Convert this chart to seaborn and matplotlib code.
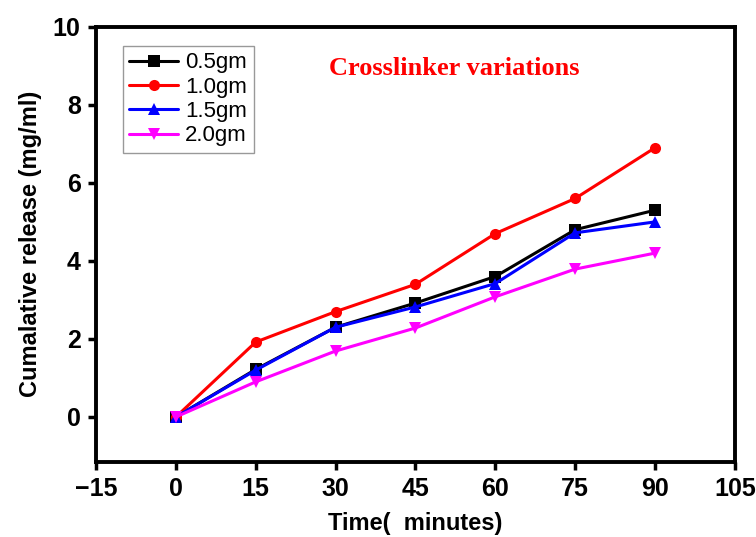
import pandas as pd
import numpy as np
import matplotlib
matplotlib.use("Agg")
import matplotlib.pyplot as plt
import seaborn as sns

# data
time_min = [0, 15, 30, 45, 60, 75, 90]
rel_05 = [0.0, 1.22, 2.3, 2.92, 3.6, 4.8, 5.3]
rel_10 = [0.0, 1.92, 2.7, 3.4, 4.7, 5.6, 6.9]
rel_15 = [0.0, 1.2, 2.3, 2.82, 3.42, 4.72, 5.0]
rel_20 = [0.0, 0.9, 1.69, 2.28, 3.08, 3.79, 4.2]
labels = ["0.5gm", "1.0gm", "1.5gm", "2.0gm"]
x_ticks = [-15, 0, 15, 30, 45, 60, 75, 90, 105]
y_ticks = [0, 2, 4, 6, 8, 10]

colors = {"0.5gm": "black", "1.0gm": "red", "1.5gm": "blue", "2.0gm": "magenta"}
markers = {"0.5gm": "s", "1.0gm": "o", "1.5gm": "^", "2.0gm": "v"}

frames = []
for lab, vals in zip(labels, [rel_05, rel_10, rel_15, rel_20]):
    frames.append(pd.DataFrame({"time": time_min, "release": vals, "dose": lab}))
df = pd.concat(frames, ignore_index=True)

sns.set_style("white")
plt.rcParams['font.family'] = ['Liberation Sans', 'DejaVu Sans']
plt.rcParams['text.color'] = 'black'
plt.rcParams['axes.labelcolor'] = 'black'
plt.rcParams['xtick.color'] = 'black'
plt.rcParams['ytick.color'] = 'black'

fig = plt.figure(figsize=(7.56, 5.37), dpi=100)
ax = fig.add_axes([0.127, 0.140, 0.845, 0.810])

sns.lineplot(data=df, x="time", y="release", hue="dose", style="dose",
             palette=colors, markers=markers, dashes=False,
             linewidth=2.2, markersize=8, markeredgewidth=0, ax=ax)

ax.set_xlim(-15, 105)
ax.set_ylim(-1.15, 10)
ax.set_xticks(x_ticks)
ax.set_yticks(y_ticks)
ax.tick_params(axis="both", direction="out", length=6, width=2.5,
               labelsize=18, pad=5, bottom=True, left=True)
for lbl in ax.get_xticklabels() + ax.get_yticklabels():
    lbl.set_fontweight("bold")
for sp in ax.spines.values():
    sp.set_visible(True)
    sp.set_color("black")
    sp.set_linewidth(2.8)

ax.set_xlabel("Time(  minutes)", fontsize=17, fontweight="bold", labelpad=8)
ax.set_ylabel("Cumalative release (mg/ml)", fontsize=17, fontweight="bold", labelpad=8)

ax.text(0.56, 0.905, "Crosslinker variations", transform=ax.transAxes,
        ha="center", va="center", color="red", fontsize=19, fontweight="bold",
        family="Liberation Serif")

leg = ax.legend(loc="upper left", bbox_to_anchor=(0.035, 0.967), fontsize=16,
                frameon=True, fancybox=False, edgecolor="gray",
                handlelength=2.2, handletextpad=0.3, borderpad=0.3,
                labelspacing=0.15, borderaxespad=0.2)
leg.get_frame().set_linewidth(1.0)

fig.savefig("out.png", dpi=100)
